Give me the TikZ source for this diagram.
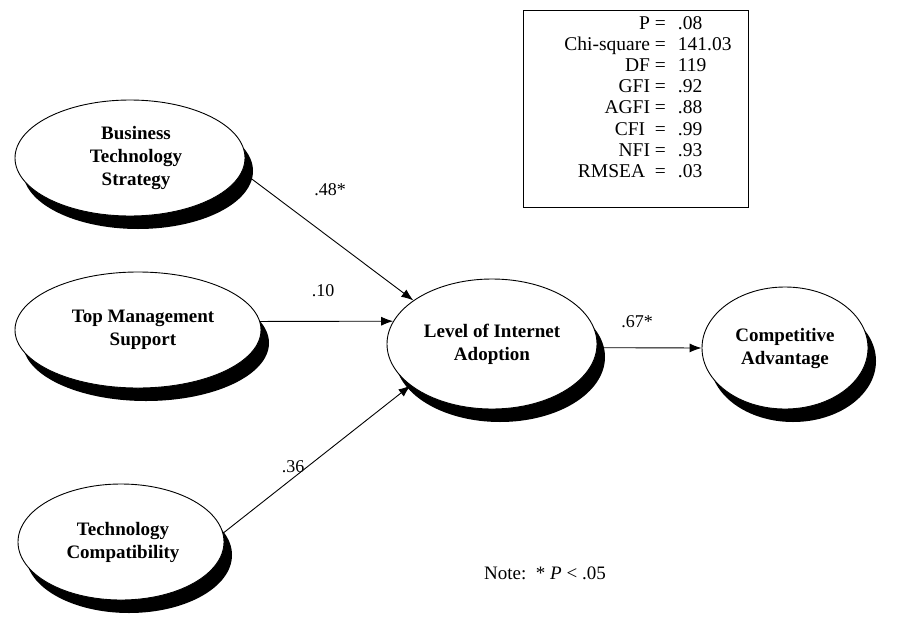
\documentclass[tikz,border=0pt]{standalone}
\usepackage{fontspec}
\setmainfont{Liberation Serif}
\usetikzlibrary{shapes.geometric,shadows,arrows.meta}
\begin{document}
\begin{tikzpicture}[x=1pt,y=-1pt,
  lat/.style={ellipse, draw=black, line width=0.9pt, fill=white, inner sep=0pt,
    font=\fontsize{19}{23}\selectfont\bfseries, align=center,
    drop shadow={shadow xshift=8pt, shadow yshift=-13pt, fill=black, opacity=1}},
  arr/.style={line width=0.9pt, -{Latex[length=12pt,width=9pt]}},
  lbl/.style={font=\fontsize{18}{21}\selectfont, inner sep=0pt}]
\useasboundingbox (0,0) rectangle (923,621);
\node[lat, minimum width=230pt, minimum height=116pt] (bts) at (130,158) {\hspace*{12pt}Business\\\hspace*{12pt}Technology\\\hspace*{12pt}Strategy};
\node[lat, minimum width=246pt, minimum height=116pt] (tms) at (138,330) {\hspace*{10pt}Top Management\\\hspace*{10pt}Support};
\node[lat, minimum width=206pt, minimum height=116pt] (tc) at (121,542) {\hspace*{4pt}Technology\\\hspace*{4pt}Compatibility};
\node[lat, minimum width=210pt, minimum height=130pt] (lia) at (492,344) {Level of Internet\\Adoption};
\node[lat, minimum width=166pt, minimum height=122pt] (ca) at (785,348) {Competitive\\Advantage};
\draw[arr] (bts.-7) -- (lia.151);
\draw[arr] (tms.4) -- (lia.167);
\draw[arr] (tc.5) -- (lia.207);
\draw[arr] (lia.-2) -- (ca.west);
\node[lbl] (l48) at (330,190) {.48*};
\node[lbl] (l10) at (323,291) {.10};
\node[lbl] (l36) at (293,467) {.36};
\node[lbl] (l67) at (637,322) {.67*};
\node[draw, line width=0.8pt, minimum width=225pt, minimum height=197pt, anchor=north west, inner sep=0pt] (fitbox) at (523,10) {};
\node[anchor=north, inner sep=0pt, font=\fontsize{19.5}{21.2}\selectfont] (stats) at (648,14) {%
\begin{tabular}{@{}r@{\hspace{12pt}}l@{}}
P = & .08\\
Chi-square = & 141.03\\
DF = & 119\\
GFI = & .92\\
AGFI = & .88\\
CFI \ = & .99\\
NFI = & .93\\
RMSEA \ = & .03
\end{tabular}};
\node[lbl, font=\fontsize{19}{22}\selectfont] (note) at (545,573) {Note:\ \ * \textit{P} < .05};
\end{tikzpicture}
\end{document}
